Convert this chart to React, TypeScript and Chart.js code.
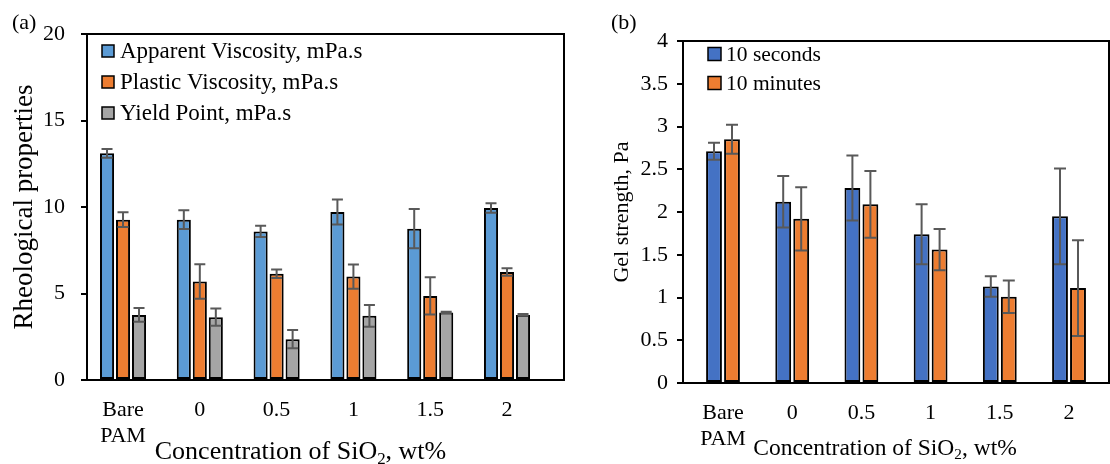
import React, { useEffect, useRef } from 'react';
import { Chart, registerables } from 'chart.js';
Chart.register(...registerables);

const categories = ['Bare PAM', '0', '0.5', '1', '1.5', '2'];
const tickLabels: (string | string[])[] = [['Bare', 'PAM'], '0', '0.5', '1', '1.5', '2'];

const apparentViscosity = [13.1, 9.27, 8.59, 9.71, 8.75, 9.94];
const apparentViscosityErr = [0.25, 0.54, 0.32, 0.72, 1.13, 0.27];
const plasticViscosity = [9.27, 5.69, 6.14, 5.98, 4.86, 6.24];
const plasticViscosityErr = [0.42, 1.0, 0.25, 0.7, 1.08, 0.22];
const yieldPoint = [3.76, 3.63, 2.36, 3.71, 3.9, 3.76];
const yieldPointErr = [0.4, 0.5, 0.53, 0.63, 0.05, 0.05];

const gel10s = [2.71, 2.12, 2.28, 1.74, 1.13, 1.95];
const gel10sErr = [0.1, 0.3, 0.38, 0.35, 0.12, 0.56];
const gel10min = [2.85, 1.92, 2.09, 1.56, 1.01, 1.11];
const gel10minErr = [0.17, 0.37, 0.39, 0.24, 0.19, 0.56];

const FONT = "'Liberation Serif', 'Times New Roman', serif";
Chart.defaults.font.family = FONT;
Chart.defaults.color = '#000';

const toPoints = (arr: number[]) => arr.map((v, i) => ({ x: i, y: v }));

const errorBarsPlugin = {
  id: 'errorBars',
  afterDatasetsDraw(chart: any, _args: any, opts: any) {
    const ctx = chart.ctx;
    const yScale = chart.scales.y;
    ctx.save();
    ctx.strokeStyle = opts.color || '#595959';
    ctx.lineWidth = opts.lineWidth || 2;
    chart.data.datasets.forEach((ds: any, di: number) => {
      const meta = chart.getDatasetMeta(di);
      meta.data.forEach((bar: any, j: number) => {
        const v = ds.data[j].y;
        const e = ds.errors[j];
        const x = bar.x;
        const yt = yScale.getPixelForValue(v + e);
        const yb = yScale.getPixelForValue(v - e);
        const cw = opts.capWidth / 2;
        ctx.beginPath();
        ctx.moveTo(x, yt);
        ctx.lineTo(x, yb);
        ctx.moveTo(x - cw, yt);
        ctx.lineTo(x + cw, yt);
        ctx.moveTo(x - cw, yb);
        ctx.lineTo(x + cw, yb);
        ctx.stroke();
      });
    });
    ctx.restore();
  },
};

const framePlugin = {
  id: 'frame',
  afterDraw(chart: any, _args: any, opts: any) {
    const { left, top, right, bottom } = chart.chartArea;
    const ctx = chart.ctx;
    ctx.save();
    ctx.strokeStyle = '#000';
    ctx.lineWidth = opts.lineWidth || 2;
    ctx.strokeRect(left, top, right - left, bottom - top);
    ctx.restore();
  },
};

const boxLegendPlugin = {
  id: 'boxLegend',
  afterDraw(chart: any, _args: any, opts: any) {
    const ctx = chart.ctx;
    const { left, top } = chart.chartArea;
    ctx.save();
    ctx.font = `${opts.fontSize}px ${FONT}`;
    ctx.textBaseline = 'middle';
    chart.data.datasets.forEach((ds: any, i: number) => {
      const cy = top + opts.firstRow + i * opts.rowGap;
      const bx = left + opts.boxX;
      const s = opts.boxSize;
      ctx.fillStyle = ds.backgroundColor;
      ctx.fillRect(bx, cy - s / 2, s, s);
      ctx.strokeStyle = '#000';
      ctx.lineWidth = 1.5;
      ctx.strokeRect(bx, cy - s / 2, s, s);
      ctx.fillStyle = '#000';
      ctx.fillText(ds.label, left + opts.textX, cy + 1);
    });
    ctx.restore();
  },
};

const xTitlePlugin = {
  id: 'xTitle',
  afterDraw(chart: any, _args: any, opts: any) {
    const ctx = chart.ctx;
    const { left, right } = chart.chartArea;
    const fs = opts.fontSize;
    const parts = ['Concentration of SiO', '2', ', wt%'];
    ctx.save();
    ctx.fillStyle = '#000';
    ctx.textBaseline = 'alphabetic';
    ctx.font = `${fs}px ${FONT}`;
    const w1 = ctx.measureText(parts[0]).width;
    const w3 = ctx.measureText(parts[2]).width;
    ctx.font = `${fs * 0.65}px ${FONT}`;
    const w2 = ctx.measureText(parts[1]).width;
    const total = w1 + w2 + w3;
    let x = (left + right) / 2 + opts.offsetX - total / 2;
    const y = opts.baseline;
    ctx.font = `${fs}px ${FONT}`;
    ctx.fillText(parts[0], x, y);
    x += w1;
    ctx.font = `${fs * 0.65}px ${FONT}`;
    ctx.fillText(parts[1], x, y + fs * 0.18);
    x += w2;
    ctx.font = `${fs}px ${FONT}`;
    ctx.fillText(parts[2], x, y);
    ctx.restore();
  },
};

function buildConfig(p: any) {
  return {
    type: 'bar',
    data: { datasets: p.datasets },
    plugins: [errorBarsPlugin, framePlugin, boxLegendPlugin, xTitlePlugin],
    options: {
      responsive: false,
      animation: false,
      devicePixelRatio: 1,
      layout: { padding: { top: p.padTop, right: p.padRight, left: 0, bottom: 0 } },
      datasets: { bar: { categoryPercentage: p.catPct, barPercentage: p.barPct } },
      plugins: {
        legend: { display: false },
        tooltip: { enabled: false },
        errorBars: { capWidth: p.capWidth, color: '#595959', lineWidth: 2 },
        frame: { lineWidth: 2 },
        boxLegend: p.legend,
        xTitle: p.xTitle,
      },
      scales: {
        x: {
          type: 'linear',
          min: p.xMin,
          max: p.xMax,
          offset: false,
          afterBuildTicks: (s: any) => {
            s.ticks = categories.map((_, i) => ({ value: i }));
          },
          afterFit: (s: any) => {
            s.height = p.xHeight;
          },
          ticks: {
            autoSkip: false,
            maxRotation: 0,
            minRotation: 0,
            padding: p.xTickPad,
            font: { size: 22 },
            color: '#000',
            callback: (v: any) => (tickLabels[v] !== undefined ? tickLabels[v] : ''),
          },
          grid: { display: false, drawTicks: false, offset: false },
          border: { display: true, color: '#000', width: 2 },
        },
        y: {
          min: 0,
          max: p.yMax,
          afterFit: (s: any) => {
            s.width = p.yWidth;
          },
          ticks: {
            stepSize: p.yStep,
            padding: p.yTickPad,
            font: { size: 22 },
            color: '#000',
            callback: (v: any) => String(Math.round(v * 100) / 100),
          },
          grid: { drawOnChartArea: false, drawTicks: true, tickLength: 6, color: '#000', lineWidth: 2 },
          border: { color: '#000', width: 2 },
          title: {
            display: true,
            text: p.yTitle,
            font: { size: p.yTitleSize },
            color: '#000',
            padding: { top: p.yTitlePad, bottom: 0 },
          },
        },
      },
    },
  };
}

const leftParams = {
  datasets: [
    { label: 'Apparent Viscosity, mPa.s', data: toPoints(apparentViscosity), errors: apparentViscosityErr, backgroundColor: '#5B9BD5', borderColor: '#000', borderWidth: 2, borderSkipped: false },
    { label: 'Plastic Viscosity, mPa.s', data: toPoints(plasticViscosity), errors: plasticViscosityErr, backgroundColor: '#ED7D31', borderColor: '#000', borderWidth: 2, borderSkipped: false },
    { label: 'Yield Point, mPa.s', data: toPoints(yieldPoint), errors: yieldPointErr, backgroundColor: '#A5A5A5', borderColor: '#000', borderWidth: 2, borderSkipped: false },
  ],
  padTop: 34,
  padRight: 11,
  catPct: 0.625,
  barPct: 0.88,
  capWidth: 11,
  legend: { fontSize: 23, firstRow: 17, rowGap: 31, boxX: 15, textX: 33, boxSize: 12 },
  xTitle: { fontSize: 26, offsetX: -25, baseline: 459 },
  xMin: -0.469,
  xMax: 5.742,
  xHeight: 84,
  xTickPad: 17,
  yMax: 20,
  yStep: 5,
  yWidth: 87,
  yTickPad: 16,
  yTitle: 'Rheological properties',
  yTitleSize: 27,
  yTitlePad: 9,
};

const rightParams = {
  datasets: [
    { label: '10 seconds', data: toPoints(gel10s), errors: gel10sErr, backgroundColor: '#4472C4', borderColor: '#000', borderWidth: 2, borderSkipped: false },
    { label: '10 minutes', data: toPoints(gel10min), errors: gel10minErr, backgroundColor: '#ED7D31', borderColor: '#000', borderWidth: 2, borderSkipped: false },
  ],
  padTop: 41,
  padRight: 1,
  catPct: 0.52,
  barPct: 0.88,
  capWidth: 12,
  legend: { fontSize: 21.5, firstRow: 13, rowGap: 29, boxX: 25, textX: 43, boxSize: 13 },
  xTitle: { fontSize: 23.5, offsetX: -11, baseline: 455 },
  xMin: -0.578,
  xMax: 5.578,
  xHeight: 81,
  xTickPad: 17,
  yMax: 4,
  yStep: 0.5,
  yWidth: 108,
  yTickPad: 9,
  yTitle: 'Gel strength, Pa',
  yTitleSize: 22,
  yTitlePad: 34,
};

function BarPanel({ params, width, height }: { params: any; width: number; height: number }) {
  const ref = useRef<HTMLCanvasElement | null>(null);
  useEffect(() => {
    if (!ref.current) return;
    const chart = new Chart(ref.current, buildConfig(params) as any);
    return () => chart.destroy();
  }, [params]);
  return <canvas ref={ref} width={width} height={height} style={{ display: 'block', width, height }} />;
}

export default function App() {
  const labelStyle: React.CSSProperties = {
    position: 'absolute',
    fontFamily: FONT,
    fontSize: 22,
    color: '#000',
    lineHeight: '22px',
  };
  return (
    <div style={{ position: 'absolute', left: 0, top: 0, width: 1110, height: 464, background: '#fff', overflow: 'hidden' }}>
      <div style={{ position: 'absolute', left: 0, top: 0 }}>
        <BarPanel params={leftParams} width={575} height={464} />
      </div>
      <div style={{ position: 'absolute', left: 575, top: 0 }}>
        <BarPanel params={rightParams} width={535} height={464} />
      </div>
      <div style={{ ...labelStyle, left: 12, top: 11 }}>(a)</div>
      <div style={{ ...labelStyle, left: 611, top: 11 }}>(b)</div>
    </div>
  );
}
